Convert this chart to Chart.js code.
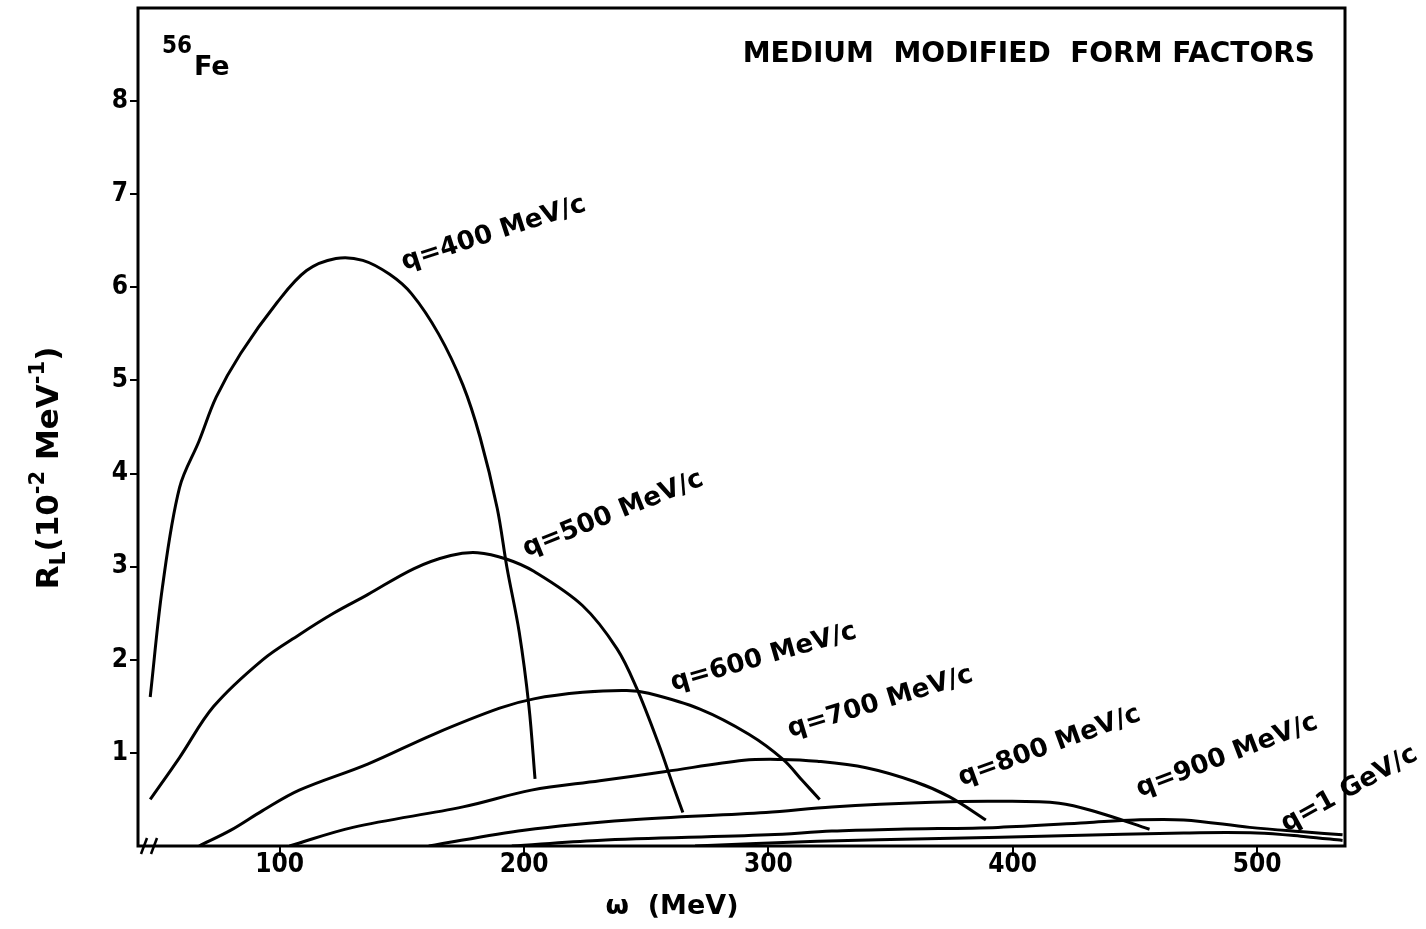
<!DOCTYPE html>
<html>
<head>
<meta charset="utf-8">
<script src="https://cdn.jsdelivr.net/npm/chart.js@4.4.1/dist/chart.umd.min.js"></script>
<style>
  html, body { margin: 0; background: #fff; }
</style>
</head>
<body>
<canvas id="chart" width="1426" height="929"></canvas>
<script>
// omega (MeV) and R_L (10^-2 MeV^-1)
const q400 = [[47,1.6],[52,2.78],[59,3.85],[67,4.35],[74,4.82],[84,5.29],[99,5.84],[111,6.18],[123,6.31],[134,6.29],[145,6.14],[154,5.93],[165,5.5],[175,4.95],[182,4.39],[189,3.63],[193,2.99],[198,2.3],[202,1.5],[204.5,0.72]];
const q500 = [[47,0.5],[59,0.95],[73,1.5],[93,2.0],[108,2.27],[122,2.5],[136,2.7],[155,2.98],[170,3.12],[181,3.15],[193,3.08],[204,2.95],[224,2.58],[238,2.12],[246,1.7],[255,1.1],[261,0.65],[265,0.36]];
const q600 = [[67,0],[80,0.17],[93,0.38],[108,0.6],[136,0.88],[163,1.2],[190,1.48],[204,1.58],[224,1.65],[242,1.67],[251,1.64],[272,1.47],[292,1.2],[306,0.93],[314,0.7],[321,0.5]];
const q700 = [[104,0],[130,0.2],[175,0.42],[203,0.6],[231,0.7],[258,0.8],[290,0.92],[305,0.93],[320,0.91],[340,0.84],[360,0.69],[374,0.53],[389,0.28]];
const q800 = [[161,0],[200,0.17],[243,0.28],[299,0.36],[326,0.42],[367,0.47],[394,0.48],[419,0.46],[435,0.36],[456,0.18]];
const q900 = [[195,0],[230,0.06],[300,0.12],[326,0.16],[353,0.18],[394,0.2],[430,0.25],[450,0.28],[470,0.28],[497,0.2],[520,0.15],[535,0.12]];
const q1000 = [[270,0],[320,0.05],[370,0.08],[420,0.11],[470,0.14],[500,0.14],[520,0.1],[535,0.06]];

const xTicks = [100, 200, 300, 400, 500];
const yTicks = [1, 2, 3, 4, 5, 6, 7, 8];

// curve labels, anchored in data units
const curveLabels = [
  { text: 'q=400 MeV/c', x: 151, y: 6.19, angle: -18 },
  { text: 'q=500 MeV/c', x: 201, y: 3.11, angle: -22 },
  { text: 'q=600 MeV/c', x: 261, y: 1.67, angle: -16 },
  { text: 'q=700 MeV/c', x: 309, y: 1.17, angle: -17 },
  { text: 'q=800 MeV/c', x: 379, y: 0.65, angle: -20 },
  { text: 'q=900 MeV/c', x: 452, y: 0.53, angle: -21 },
  { text: 'q=1 GeV/c', x: 512, y: 0.15, angle: -29 }
];

const tickFont = { family: "'Liberation Sans Narrow', 'DejaVu Sans Condensed', sans-serif", size: 26, weight: 'bold' };

function curve(pts) {
  return {
    data: pts.map(p => ({ x: p[0], y: p[1] })),
    showLine: true,
    borderColor: '#000',
    borderWidth: 3,
    pointRadius: 0,
    tension: 0.35,
    fill: false
  };
}

const decor = {
  id: 'decor',
  afterDraw(chart) {
    const ctx = chart.ctx;
    const a = chart.chartArea;
    const xs = chart.scales.x, ys = chart.scales.y;
    ctx.save();
    ctx.strokeStyle = '#000';
    ctx.fillStyle = '#000';

    // frame
    ctx.lineWidth = 3;
    ctx.strokeRect(a.left, a.top, a.right - a.left, a.bottom - a.top);

    // axis break marks
    ctx.lineWidth = 2.5;
    [6, 16].forEach(d => {
      ctx.beginPath();
      ctx.moveTo(a.left + d - 3, a.bottom + 8);
      ctx.lineTo(a.left + d + 3, a.bottom - 8);
      ctx.stroke();
    });

    ctx.textBaseline = 'alphabetic';

    // title
    ctx.font = "bold 28px 'DejaVu Sans'";
    ctx.textAlign = 'right';
    ctx.fillText('MEDIUM  MODIFIED  FORM FACTORS', a.right - 30, 62);

    // 56Fe
    ctx.textAlign = 'left';
    ctx.font = "bold 24px 'DejaVu Sans Condensed', 'DejaVu Sans'";
    ctx.fillText('56', a.left + 24, 53);
    ctx.font = "bold 27px 'DejaVu Sans'";
    ctx.fillText('Fe', a.left + 56, 75);

    // curve labels
    ctx.font = "bold 26px 'DejaVu Sans'";
    curveLabels.forEach(l => {
      ctx.save();
      ctx.translate(xs.getPixelForValue(l.x), ys.getPixelForValue(l.y));
      ctx.rotate(l.angle * Math.PI / 180);
      ctx.fillText(l.text, 0, 0);
      ctx.restore();
    });

    // x axis title
    ctx.font = "bold 27px 'DejaVu Sans'";
    ctx.textAlign = 'center';
    ctx.fillText('\u03c9  (MeV)', 672, 914);

    // y axis title: R_L(10^-2 MeV^-1)
    ctx.save();
    ctx.translate(58, 468);
    ctx.rotate(-Math.PI / 2);
    const parts = [
      { t: 'R', size: 31, dy: 0 },
      { t: 'L', size: 22, dy: 7 },
      { t: '(10', size: 31, dy: 0 },
      { t: '-2', size: 21, dy: -14 },
      { t: ' MeV', size: 31, dy: 0 },
      { t: '-1', size: 21, dy: -14 },
      { t: ')', size: 31, dy: 0 }
    ];
    let total = 0;
    parts.forEach(p => {
      ctx.font = 'bold ' + p.size + "px 'DejaVu Sans'";
      p.w = ctx.measureText(p.t).width;
      total += p.w;
    });
    let x = -total / 2;
    ctx.textAlign = 'left';
    parts.forEach(p => {
      ctx.font = 'bold ' + p.size + "px 'DejaVu Sans'";
      ctx.fillText(p.t, x, p.dy);
      x += p.w;
    });
    ctx.restore();

    ctx.restore();
  }
};

new Chart(document.getElementById('chart').getContext('2d'), {
  type: 'scatter',
  data: {
    datasets: [q400, q500, q600, q700, q800, q900, q1000].map(curve)
  },
  options: {
    responsive: false,
    animation: false,
    layout: { padding: { top: 8, right: 81, left: 0, bottom: 0 } },
    plugins: {
      legend: { display: false },
      tooltip: { enabled: false }
    },
    scales: {
      x: {
        type: 'linear',
        min: 42,
        max: 536,
        afterBuildTicks: s => { s.ticks = xTicks.map(v => ({ value: v })); },
        afterFit: s => { s.height = 83; s.paddingLeft = 0; s.paddingRight = 0; },
        grid: { drawOnChartArea: false, drawTicks: true, tickLength: 10, color: '#000', lineWidth: 2 },
        border: { display: false },
        ticks: { color: '#000', font: tickFont, padding: -6, maxRotation: 0 }
      },
      y: {
        min: 0,
        max: 9,
        afterBuildTicks: s => { s.ticks = yTicks.map(v => ({ value: v })); },
        afterFit: s => { s.width = 138; s.paddingTop = 0; s.paddingBottom = 0; },
        grid: { drawOnChartArea: false, drawTicks: true, tickLength: 8, color: '#000', lineWidth: 2 },
        border: { display: false },
        ticks: { color: '#000', font: tickFont, padding: 2 }
      }
    }
  },
  plugins: [decor]
});
</script>
</body>
</html>
